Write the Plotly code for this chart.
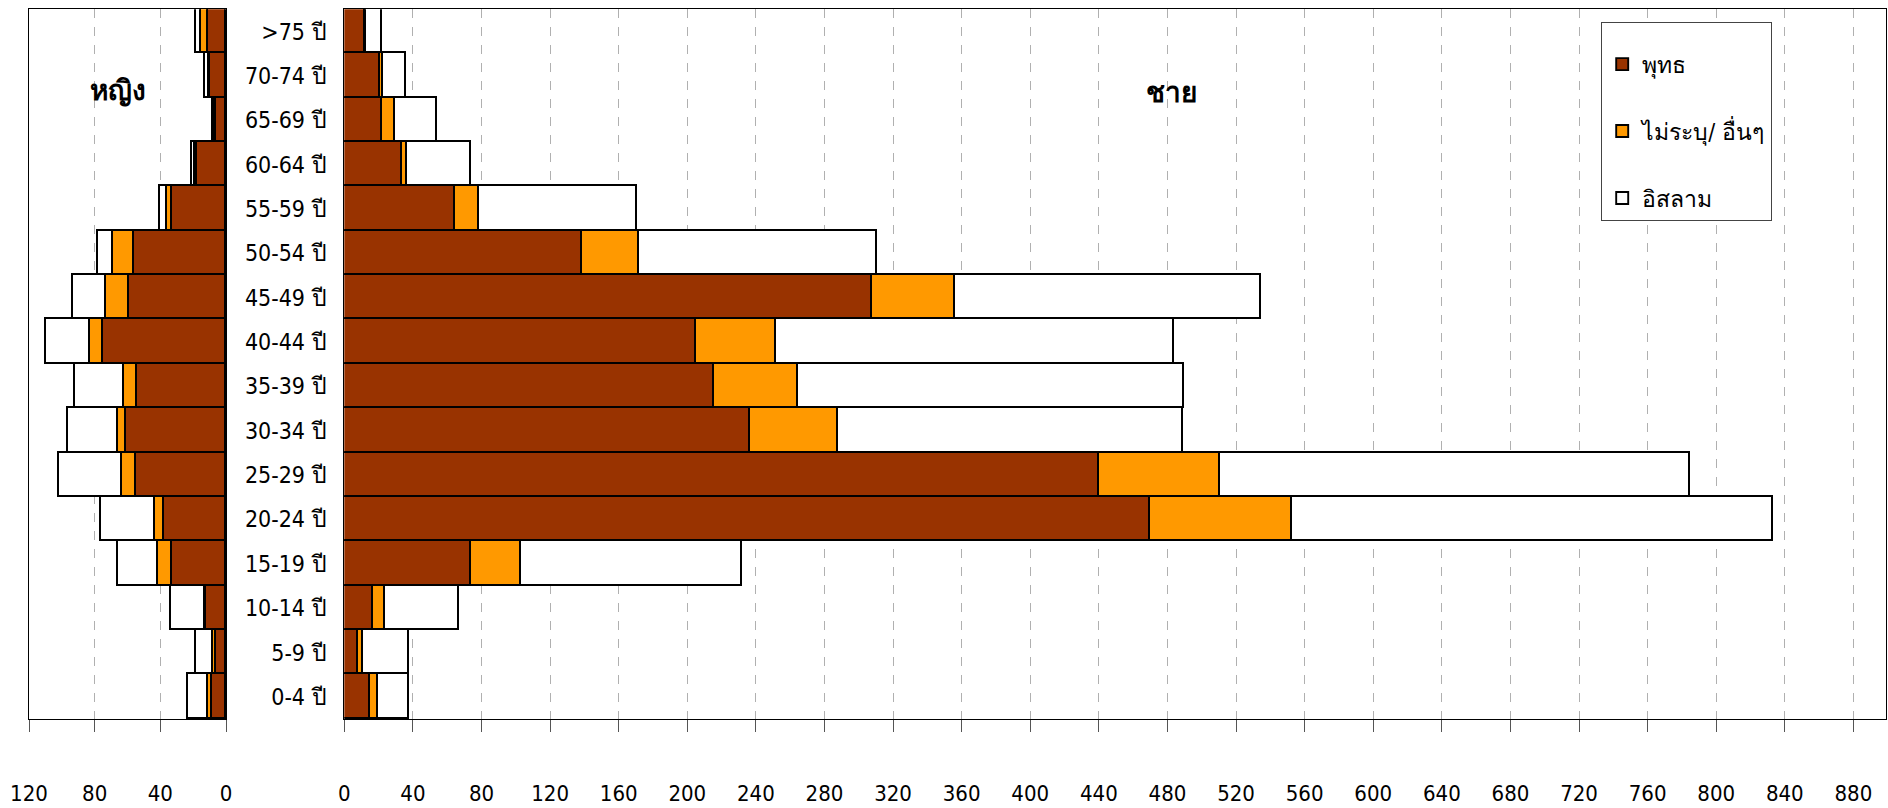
import plotly.graph_objects as go

ages = ["0-4 ปี", "5-9 ปี", "10-14 ปี", "15-19 ปี", "20-24 ปี", "25-29 ปี", "30-34 ปี",
        "35-39 ปี", "40-44 ปี", "45-49 ปี", "50-54 ปี", "55-59 ปี", "60-64 ปี",
        "65-69 ปี", "70-74 ปี", ">75 ปี"]

series_names = ["พุทธ", "ไม่ระบุ/ อื่นๆ", "อิสลาม"]

female_buddhist = [8.5, 6, 12, 33, 38, 55, 61, 54, 75, 59, 56, 33, 17.5, 6, 9.5, 11]
female_other = [2.5, 2, 0.8, 8.5, 5, 8.5, 4.5, 8, 8, 14, 13, 3, 1.5, 0.6, 0.8, 4]
female_islam = [12, 10, 20.5, 24, 33, 38.5, 31, 30, 26.5, 20, 9, 4.5, 1.5, 1.2, 2.7, 3]

male_buddhist = [15, 8, 17, 74, 470, 440, 237, 216, 205, 308, 139, 65, 34, 22, 21, 12]
male_other = [5, 3, 7, 29, 83, 71, 51, 49, 47, 48, 33, 14, 3, 8, 1.5, 1]
male_islam = [18, 27, 43, 129, 280, 274, 201, 225, 232, 179, 139, 92, 37, 24, 13.5, 9]

female_ticks = [0, 40, 80, 120]

colors = ["#993300", "#FF9900", "#FFFFFF"]

FONT = "DejaVu Sans Condensed, Liberation Sans Narrow, Arial Narrow, sans-serif"

fig = go.Figure()

female = [female_buddhist, female_other, female_islam]
male = [male_buddhist, male_other, male_islam]

for i, name in enumerate(series_names):
    fig.add_trace(go.Bar(
        y=ages, x=female[i], orientation="h", name=name,
        marker=dict(color=colors[i], line=dict(color="black", width=1.9)),
        xaxis="x", yaxis="y", showlegend=False, legendgroup=name,
    ))
for i, name in enumerate(series_names):
    fig.add_trace(go.Bar(
        y=ages, x=male[i], orientation="h", name=name,
        marker=dict(color=colors[i], line=dict(color="black", width=1.9)),
        xaxis="x2", yaxis="y2", showlegend=True, legendgroup=name,
    ))

y_top = 1 - 9.3 / 808
y_bot = 1 - 719 / 808

axis_common = dict(
    showline=True, linecolor="black", linewidth=1.2, mirror=True,
    ticks="outside", ticklen=12, tickcolor="#555555", tickwidth=1,
    showgrid=True, gridcolor="#b0b0b0", griddash="dash", gridwidth=1,
    zeroline=False, tickfont=dict(family=FONT, size=22, color="black"),
    ticklabelstandoff=42, automargin=False,
)

fig.update_layout(
    width=1888, height=808,
    margin=dict(l=0, r=0, t=0, b=0, autoexpand=False),
    paper_bgcolor="white", plot_bgcolor="white",
    barmode="stack", bargap=0,
    xaxis=dict(domain=[29 / 1888, 226 / 1888], range=[120, 0],
               tickvals=female_ticks, ticktext=[str(v) for v in female_ticks],
               anchor="y", **axis_common),
    yaxis=dict(domain=[y_bot, y_top], anchor="x", showticklabels=False,
               showline=True, linecolor="black", linewidth=1.2, mirror=True,
               ticks="", showgrid=False, categoryorder="array", categoryarray=ages,
               automargin=False),
    xaxis2=dict(domain=[344.3 / 1888, 1886 / 1888], range=[0, 899], dtick=40, tick0=0,
                anchor="y2", **axis_common),
    yaxis2=dict(domain=[y_bot, y_top], anchor="x2", showticklabels=True,
                showline=True, linecolor="black", linewidth=1.2, mirror=True,
                ticks="", showgrid=False, categoryorder="array", categoryarray=ages,
                tickfont=dict(family=FONT, size=23, color="black"),
                ticklabelstandoff=12, automargin=False),
    legend=dict(
        x=1601 / 1888, y=1 - 22 / 808, xanchor="left", yanchor="top",
        bgcolor="white", bordercolor="#444444", borderwidth=1.2,
        font=dict(family=FONT, size=23, color="black"),
        traceorder="grouped", tracegroupgap=34,
        entrywidth=156, entrywidthmode="pixels",
        title=dict(text=" ", font=dict(size=15)),
    ),
    annotations=[
        dict(text="<b>หญิง</b>", x=88 / 1888, y=1 - 72 / 808, xref="paper", yref="paper",
             showarrow=False, font=dict(family=FONT, size=28, color="black")),
        dict(text="<b>ชาย</b>", x=1171 / 1888, y=1 - 74 / 808, xref="paper", yref="paper",
             showarrow=False, font=dict(family=FONT, size=28, color="black")),
    ],
)

fig.write_html(
    "out.html",
    config={"displayModeBar": False},
    post_script="document.body.style.margin='0';document.body.style.overflow='hidden';",
)
